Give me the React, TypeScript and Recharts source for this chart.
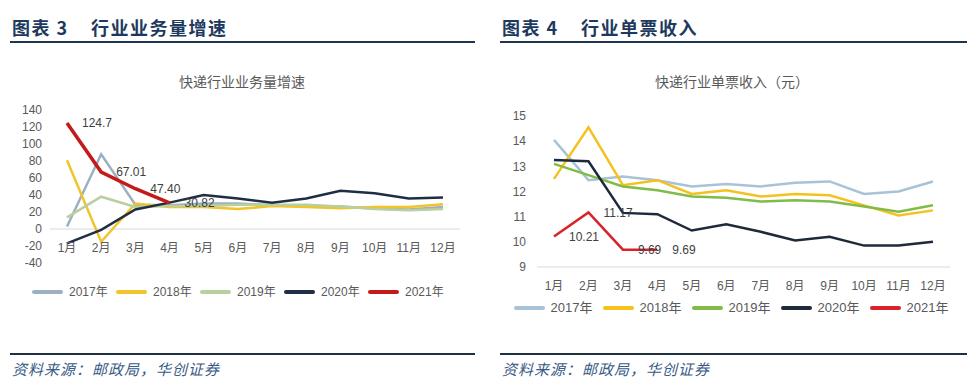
import { LabelList, Line, LineChart, ReferenceLine, XAxis, YAxis } from "recharts";

const months = ["1月", "2月", "3月", "4月", "5月", "6月", "7月", "8月", "9月", "10月", "11月", "12月"];
const years = ["2017年", "2018年", "2019年", "2020年", "2021年"];

// 快递行业业务量增速 (%)
const volume2017 = [3, 88, 28.5, 28, 30, 30, 28, 27, 26.5, 24, 23, 26];
const volume2018 = [81, -15, 30, 26, 26, 23.5, 27, 26, 24.5, 26, 26, 29];
const volume2019 = [13.6, 38, 26, 27, 27, 28.5, 28.5, 28.5, 26.5, 23.5, 22, 23.5];
const volume2020 = [-17, -1, 23, 31, 40, 36, 31, 36, 45, 42, 36, 37];
const volume2021 = [124.7, 67.01, 47.4, 30.82];
const volumeLabels2021 = ["124.7", "67.01", "47.40", "30.82"];
const volumeTicks = [-40, -20, 0, 20, 40, 60, 80, 100, 120, 140];

// 快递行业单票收入 (元)
const price2017 = [14.05, 12.45, 12.6, 12.45, 12.2, 12.3, 12.2, 12.35, 12.4, 11.9, 12.0, 12.4];
const price2018 = [12.5, 14.55, 12.25, 12.45, 11.9, 12.05, 11.8, 11.9, 11.85, 11.45, 11.05, 11.25];
const price2019 = [13.1, 12.65, 12.2, 12.05, 11.8, 11.75, 11.6, 11.65, 11.6, 11.4, 11.2, 11.45];
const price2020 = [13.25, 13.2, 11.15, 11.1, 10.45, 10.7, 10.4, 10.05, 10.2, 9.85, 9.85, 10.0];
const price2021 = [10.21, 11.17, 9.69, 9.69];
const priceLabels2021 = ["10.21", "11.17", "9.69", "9.69"];
const priceTicks = [9, 10, 11, 12, 13, 14, 15];

const volumeColors = ["#9cb0c3", "#f1c429", "#b9cf9d", "#1f2e42", "#c41a1a"];
const priceColors = ["#a8c3d8", "#f5c11e", "#80bc47", "#1e2a3a", "#d9222a"];

const FONT = 'Arial, "Liberation Sans", "Noto Sans CJK SC", sans-serif';
const TEXT = "#595959";

const volumeData = months.map((m, i) => ({
  month: m,
  y2017: volume2017[i],
  y2018: volume2018[i],
  y2019: volume2019[i],
  y2020: volume2020[i],
  y2021: volume2021[i],
  label2021: volumeLabels2021[i],
}));

const priceData = months.map((m, i) => ({
  month: m,
  y2017: price2017[i],
  y2018: price2018[i],
  y2019: price2019[i],
  y2020: price2020[i],
  y2021: price2021[i],
  label2021: priceLabels2021[i],
}));

const keys = ["y2017", "y2018", "y2019", "y2020", "y2021"];

function MonthTick({ x, y, payload, shift }: any) {
  return (
    <text x={x} y={y + shift} textAnchor="middle" fill={TEXT} fontSize={12} fontFamily={FONT}>
      {payload.value}
    </text>
  );
}

function Header({ left, width, title }: { left: number; width: number; title: string }) {
  return (
    <>
      <div
        style={{
          position: "absolute",
          left: left + 2,
          top: 15,
          fontFamily: '"Noto Sans CJK SC", serif',
          fontWeight: 700,
          fontSize: 18,
          letterSpacing: 1.5,
          color: "#1d3a5e",
          whiteSpace: "pre",
          lineHeight: "24px",
        }}
      >
        {title}
      </div>
      <div style={{ position: "absolute", left, top: 41, width, height: 2, background: "#1f3550" }} />
      <div style={{ position: "absolute", left, top: 353, width, height: 2, background: "#1f3040" }} />
      <div
        style={{
          position: "absolute",
          left: left + 2,
          top: 359,
          fontFamily: '"Noto Sans CJK SC", serif',
          fontStyle: "italic",
          fontSize: 15,
          letterSpacing: 1,
          color: "#3a5a85",
          lineHeight: "20px",
        }}
      >
        资料来源：邮政局，华创证券
      </div>
    </>
  );
}

function LegendRow({
  colors,
  centerX,
  top,
  itemWidth,
  fontSize,
}: {
  colors: string[];
  centerX: number;
  top: number;
  itemWidth: number;
  fontSize: number;
}) {
  const total = itemWidth * years.length;
  return (
    <div
      style={{
        position: "absolute",
        left: centerX - total / 2,
        top,
        width: total,
        display: "flex",
        fontFamily: FONT,
        fontSize,
        color: TEXT,
        lineHeight: "16px",
      }}
    >
      {years.map((yr, i) => (
        <div key={yr} style={{ width: itemWidth, display: "flex", alignItems: "center" }}>
          <div style={{ width: 31, height: 4, borderRadius: 2, background: colors[i], marginRight: 6 }} />
          <span>{yr}</span>
        </div>
      ))}
    </div>
  );
}

function ChartTitle({ centerX, text }: { centerX: number; text: string }) {
  return (
    <div
      style={{
        position: "absolute",
        left: centerX - 150,
        width: 300,
        top: 72,
        textAlign: "center",
        fontFamily: FONT,
        fontSize: 14,
        color: TEXT,
        lineHeight: "20px",
      }}
    >
      {text}
    </div>
  );
}

export default function App() {
  return (
    <div
      style={{
        position: "absolute",
        left: 0,
        top: 0,
        width: 980,
        height: 387,
        background: "#ffffff",
        overflow: "hidden",
      }}
    >
      <Header left={10} width={465} title={"图表 3    行业业务量增速"} />
      <Header left={500} width={467} title={"图表 4    行业单票收入"} />
      <ChartTitle centerX={242} text="快递行业业务量增速" />
      <ChartTitle centerX={732} text="快递行业单票收入（元）" />

      <div style={{ position: "absolute", left: 0, top: 0 }}>
        <LineChart
          width={490}
          height={387}
          data={volumeData}
          margin={{ top: 110, right: 30, bottom: 104, left: 0 }}
        >
          <XAxis
            dataKey="month"
            height={20}
            padding={{ left: 17, right: 17 }}
            axisLine={false}
            tickLine={false}
            tickSize={0}
            tickMargin={0}
            interval={0}
            tick={(p: any) => <MonthTick {...p} shift={-11} />}
          />
          <YAxis
            width={50}
            domain={[-40, 140]}
            ticks={volumeTicks}
            axisLine={false}
            tickLine={false}
            tickSize={0}
            tickMargin={8}
            interval={0}
            tick={{ fill: TEXT, fontSize: 12, fontFamily: FONT }}
          />
          <ReferenceLine y={0} stroke="#d9d9d9" strokeWidth={1} />
          {keys.map((k, i) => (
            <Line
              key={k}
              dataKey={k}
              type="linear"
              stroke={volumeColors[i]}
              strokeWidth={i === 4 ? 3.5 : 2.5}
              dot={false}
              activeDot={false}
              isAnimationActive={false}
              connectNulls={false}
            >
              {i === 4 && (
                <LabelList
                  dataKey="label2021"
                  position="right"
                  offset={15}
                  fill="#404040"
                  fontSize={12}
                  fontFamily={FONT}
                />
              )}
            </Line>
          ))}
        </LineChart>
      </div>

      <div style={{ position: "absolute", left: 490, top: 0 }}>
        <LineChart
          width={490}
          height={387}
          data={priceData}
          margin={{ top: 116, right: 30, bottom: 100, left: 0 }}
        >
          <XAxis
            dataKey="month"
            height={20}
            padding={{ left: 17, right: 17 }}
            axisLine={{ stroke: "#d9d9d9" }}
            tickLine={false}
            tickSize={0}
            tickMargin={0}
            interval={0}
            tick={(p: any) => <MonthTick {...p} shift={23} />}
          />
          <YAxis
            width={47}
            domain={[9, 15]}
            ticks={priceTicks}
            axisLine={false}
            tickLine={false}
            tickSize={0}
            tickMargin={11}
            interval={0}
            tick={{ fill: TEXT, fontSize: 12, fontFamily: FONT }}
          />
          {keys.map((k, i) => (
            <Line
              key={k}
              dataKey={k}
              type="linear"
              stroke={priceColors[i]}
              strokeWidth={2.5}
              dot={false}
              activeDot={false}
              isAnimationActive={false}
            >
              {i === 4 && (
                <LabelList
                  dataKey="label2021"
                  position="right"
                  offset={15}
                  fill="#404040"
                  fontSize={12}
                  fontFamily={FONT}
                />
              )}
            </Line>
          ))}
        </LineChart>
      </div>

      <LegendRow colors={volumeColors} centerX={242} top={284} itemWidth={84} fontSize={12} />
      <LegendRow colors={priceColors} centerX={736} top={300} itemWidth={89} fontSize={13} />
    </div>
  );
}
